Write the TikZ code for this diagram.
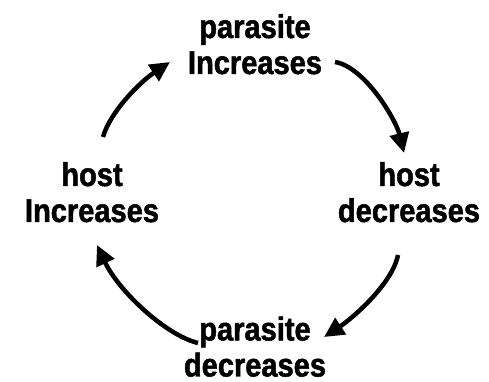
\documentclass[tikz,border=0pt]{standalone}
\usepackage{fontspec}
\newfontfamily\lblfont{Liberation Sans}[FakeStretch=0.88,BoldFeatures={FakeBold=1.5}]
\usetikzlibrary{arrows.meta}
\tikzset{
  lbl/.style={align=center, inner sep=0pt, anchor=center,
    font=\lblfont\bfseries\fontsize{33}{36}\selectfont},
  cyc/.style={line width=4.5pt, draw=black,
    -{Triangle[length=20pt,width=19pt]}}
}
\begin{document}
\begin{tikzpicture}[x=1pt,y=-1pt]
\useasboundingbox (0,0) rectangle (489,382);
\node[lbl] (top) at (255,44.2) {parasite\\Increases};
\node[lbl] (right) at (409,192.2) {host\\decreases};
\node[lbl] (bottom) at (255,346.7) {parasite\\decreases};
\node[lbl] (left) at (92,192.2) {host\\Increases};
\draw[cyc] ([shift={(80,17.8)}]top.center) .. controls +(30,5) and +(-8,-33) .. ([shift={(-5,-39.2)}]right.center);
\draw[cyc] ([shift={(-11,62.8)}]right.center) .. controls +(-6,30) and +(26,-17) .. ([shift={(69,-9.7)}]bottom.center);
\draw[cyc] ([shift={(-57,-3.7)}]bottom.center) .. controls +(-33,-8) and +(21,45) .. ([shift={(5,52.8)}]left.center);
\draw[cyc] ([shift={(11,-55.2)}]left.center) .. controls +(7,-25) and +(-30,20) .. ([shift={(-85,17.8)}]top.center);
\end{tikzpicture}
\end{document}
